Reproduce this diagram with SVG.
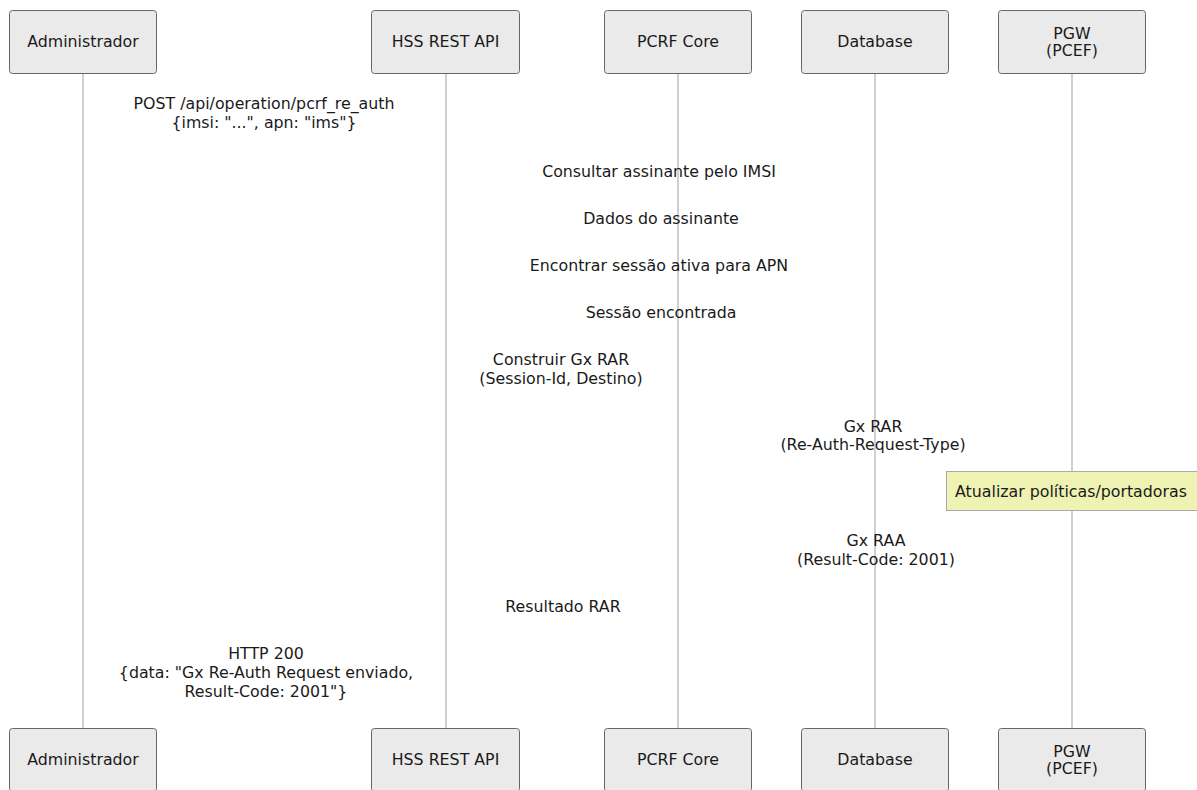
<svg xmlns="http://www.w3.org/2000/svg" width="1197" height="790" viewBox="0 0 1197 790">
<style>
.actor{fill:#eaeaea;stroke:#666;stroke-width:1}
.life{stroke:#c0c0c0;stroke-width:1.5}
text{font-family:"DejaVu Sans",sans-serif;font-size:15.8px;fill:#1a1a1a;text-anchor:middle}
.note{fill:#eef2b2;stroke:#aaa;stroke-width:1}
</style>
<rect width="1197" height="790" fill="#fff"/>
<g id="lifelines">
<line class="life" x1="83" y1="73" x2="83" y2="728"/>
<line class="life" x1="446" y1="73" x2="446" y2="728"/>
<line class="life" x1="678" y1="73" x2="678" y2="728"/>
<line class="life" x1="875" y1="73" x2="875" y2="728"/>
<line class="life" x1="1072" y1="73" x2="1072" y2="728"/>
</g>
<g id="admin">
<rect class="actor" x="9.5" y="10.5" width="147" height="63" rx="3"/>
<text x="83" y="47">Administrador</text>
<rect class="actor" x="9.5" y="728.5" width="147" height="63" rx="3"/>
<text x="83" y="765">Administrador</text>
</g>
<g id="hss">
<rect class="actor" x="371.5" y="10.5" width="148" height="63" rx="3"/>
<text x="445.5" y="47">HSS REST API</text>
<rect class="actor" x="371.5" y="728.5" width="148" height="63" rx="3"/>
<text x="445.5" y="765">HSS REST API</text>
</g>
<g id="pcrf">
<rect class="actor" x="604.5" y="10.5" width="147" height="63" rx="3"/>
<text x="678" y="47">PCRF Core</text>
<rect class="actor" x="604.5" y="728.5" width="147" height="63" rx="3"/>
<text x="678" y="765">PCRF Core</text>
</g>
<g id="db">
<rect class="actor" x="801.5" y="10.5" width="147" height="63" rx="3"/>
<text x="875" y="47">Database</text>
<rect class="actor" x="801.5" y="728.5" width="147" height="63" rx="3"/>
<text x="875" y="765">Database</text>
</g>
<g id="pgw">
<rect class="actor" x="998.5" y="10.5" width="147" height="63" rx="3"/>
<text x="1072" y="38.5">PGW</text>
<text x="1072" y="55.5">(PCEF)</text>
<rect class="actor" x="998.5" y="728.5" width="147" height="63" rx="3"/>
<text x="1072" y="756.5">PGW</text>
<text x="1072" y="773.5">(PCEF)</text>
</g>
<g id="messages">
<text x="264" y="109">POST /api/operation/pcrf_re_auth</text>
<text x="264" y="128">{imsi: "...", apn: "ims"}</text>
<text x="659" y="177">Consultar assinante pelo IMSI</text>
<text x="661" y="224">Dados do assinante</text>
<text x="659" y="271">Encontrar sessão ativa para APN</text>
<text x="661" y="318">Sessão encontrada</text>
<text x="561" y="365">Construir Gx RAR</text>
<text x="561" y="384">(Session-Id, Destino)</text>
<text x="873" y="432">Gx RAR</text>
<text x="873" y="450">(Re-Auth-Request-Type)</text>
<text x="876" y="546">Gx RAA</text>
<text x="876" y="565">(Result-Code: 2001)</text>
<text x="563" y="612">Resultado RAR</text>
<text x="266" y="659">HTTP 200</text>
<text x="266" y="678">{data: "Gx Re-Auth Request enviado,</text>
<text x="266" y="697">Result-Code: 2001"}</text>
</g>
<g id="note">
<rect class="note" x="946.5" y="471.5" width="256" height="39"/>
<text x="1071" y="497">Atualizar políticas/portadoras</text>
</g>
</svg>
